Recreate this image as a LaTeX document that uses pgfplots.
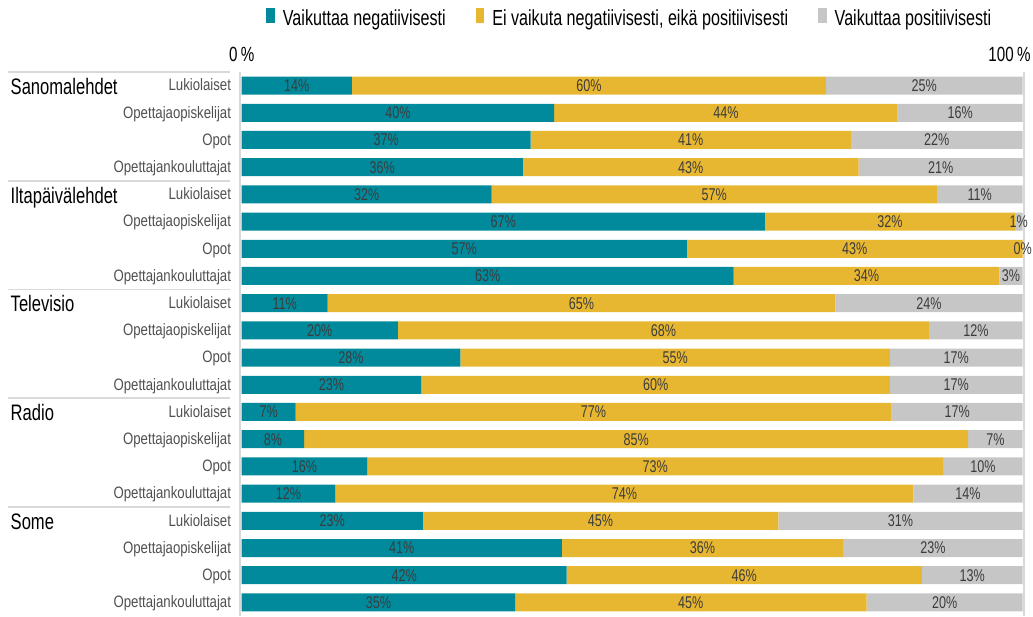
\documentclass[border=0pt]{standalone}
\usepackage{pgfplots}
\pgfplotsset{compat=1.18}
\usepackage{pgfplotstable}
\usepackage{fontspec}
\setmainfont{Liberation Sans}[FakeStretch=0.8]
\newfontfamily\cond{Liberation Sans}[FakeStretch=0.74]
\definecolor{cteal}{HTML}{008A9C}
\definecolor{cyel}{HTML}{E8B731}
\definecolor{cgrey}{HTML}{C6C6C6}
\definecolor{cline}{HTML}{D9D9D9}
\definecolor{clab}{HTML}{3C3C3C}
\definecolor{crow}{HTML}{505050}
\newcommand\leg{\cond\fontsize{21.8}{24}\selectfont}
\newcommand\grp{\cond\fontsize{22.4}{24}\selectfont}
\newcommand\rowf{\fontsize{16.5}{19}\selectfont}
\newcommand\dat{\cond\fontsize{17}{19}\selectfont}
\newcommand\tck{\cond\fontsize{20.5}{22}\selectfont}

% y: 20 = top row (Sanomalehdet / Lukiolaiset), 1 = bottom row
\pgfplotstableread{
y v l
20 14.1 14
19 40 40
18 37 37
17 36 36
16 32 32
15 67 67
14 57 57
13 63 63
12 11 11
11 20 20
10 28 28
9 23 23
8 6.9 7
7 8 8
6 16.1 16
5 12 12
4 23.2 23
3 41 41
2 41.6 42
1 35 35
}\neg
\pgfplotstableread{
y v l
20 60.7 60
19 44 44
18 41 41
17 43 43
16 57 57
15 32 32
14 43 43
13 34 34
12 65 65
11 68 68
10 55 55
9 60 60
8 76.3 77
7 85 85
6 73.7 73
5 74 74
4 45.5 45
3 36 36
2 45.5 46
1 45 45
}\neu
\pgfplotstableread{
y v l
20 25.2 25
19 16 16
18 22 22
17 21 21
16 11 11
15 1 1
14 0.01 0
13 3 3
12 24 24
11 12 12
10 17 17
9 17 17
8 16.8 17
7 7 7
6 10.2 10
5 14 14
4 31.3 31
3 23 23
2 12.9 13
1 20 20
}\pos

\begin{document}
\begin{tikzpicture}
\path[use as bounding box] (0pt,0pt) rectangle (1033pt,616pt);
\begin{axis}[
  at={(241.7pt,0pt)}, anchor=south west,
  scale only axis, width=781pt, height=544pt,
  xmin=0, xmax=100, ymin=0.5, ymax=20.5,
  xbar stacked, bar width=18pt,
  axis line style={draw=none},
  major tick length=0pt,
  clip=false,
  xtick={0,100},
  xticklabels={0\,\%, \makebox[0pt][r]{100\,\%\hspace{-8pt}}},
  xticklabel pos=upper,
  xticklabel style={anchor=base, yshift=10.4pt, font=\tck},
  ytick={1,...,20},
  yticklabels={Opettajankouluttajat,Opot,Opettajaopiskelijat,Lukiolaiset,
               Opettajankouluttajat,Opot,Opettajaopiskelijat,Lukiolaiset,
               Opettajankouluttajat,Opot,Opettajaopiskelijat,Lukiolaiset,
               Opettajankouluttajat,Opot,Opettajaopiskelijat,Lukiolaiset,
               Opettajankouluttajat,Opot,Opettajaopiskelijat,Lukiolaiset},
  yticklabel style={anchor=base east, inner sep=0pt, xshift=-10.5pt, yshift=-5.3pt, font=\rowf, text=crow},
  point meta=explicit symbolic,
  nodes near coords={\pgfplotspointmeta\%},
  every node near coord/.append style={font=\dat, text=clab},
  legend image code/.code={\path[#1,draw=none] (0pt,-4.5pt) rectangle (8.5pt,10pt);},
  legend columns=3,
  legend style={at={(0.497,1.099)}, anchor=center, draw=none, fill=none, font=\leg,
    /tikz/every even column/.append style={column sep=28pt},
    /tikz/every odd column/.append style={column sep=6pt}},
]
\addplot[fill=cteal, draw=none] table[x=v, y=y, meta=l] {\neg};
\addplot[fill=cyel, draw=none] table[x=v, y=y, meta=l] {\neu};
\addplot[fill=cgrey, draw=none] table[x=v, y=y, meta=l] {\pos};
\legend{Vaikuttaa negatiivisesti, {Ei vaikuta negatiivisesti, eikä positiivisesti}, Vaikuttaa positiivisesti}

\draw[cline, line width=2pt] ([xshift=-1.5pt]axis cs:0,0.5) -- ([xshift=-1.5pt]axis cs:0,20.5);
\draw[cline, line width=2pt] ([xshift=1.2pt]axis cs:100,0.5) -- ([xshift=1.2pt]axis cs:100,20.5);
\draw[cline, line width=1.8pt] ([xshift=-233.7pt]axis cs:0,20.5) -- ([xshift=-11.7pt]axis cs:0,20.5);
\draw[cline, line width=1.8pt] ([xshift=-233.7pt]axis cs:0,16.5) -- ([xshift=-11.7pt]axis cs:0,16.5);
\draw[cline, line width=1.8pt] ([xshift=-233.7pt]axis cs:0,12.5) -- ([xshift=-11.7pt]axis cs:0,12.5);
\draw[cline, line width=1.8pt] ([xshift=-233.7pt]axis cs:0,8.5) -- ([xshift=-11.7pt]axis cs:0,8.5);
\draw[cline, line width=1.8pt] ([xshift=-233.7pt]axis cs:0,4.5) -- ([xshift=-11.7pt]axis cs:0,4.5);
\node[anchor=base west, font=\grp, inner sep=0pt] at ([xshift=-231.2pt,yshift=-8.7pt]axis cs:0,20) {Sanomalehdet};
\node[anchor=base west, font=\grp, inner sep=0pt] at ([xshift=-231.2pt,yshift=-8.7pt]axis cs:0,16) {Iltapäivälehdet};
\node[anchor=base west, font=\grp, inner sep=0pt] at ([xshift=-231.2pt,yshift=-8.7pt]axis cs:0,12) {Televisio};
\node[anchor=base west, font=\grp, inner sep=0pt] at ([xshift=-231.2pt,yshift=-8.7pt]axis cs:0,8) {Radio};
\node[anchor=base west, font=\grp, inner sep=0pt] at ([xshift=-231.2pt,yshift=-8.7pt]axis cs:0,4) {Some};
\end{axis}
\end{tikzpicture}
\end{document}
